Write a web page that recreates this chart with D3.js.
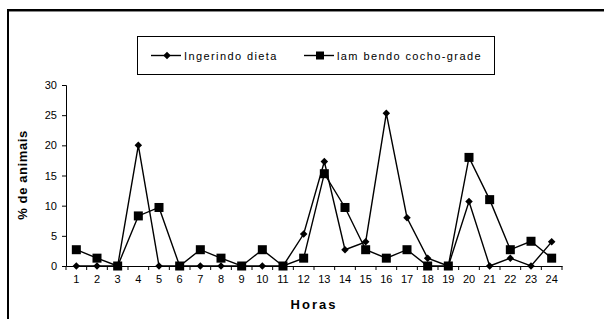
<!DOCTYPE html>
<html>
<head>
<meta charset="utf-8">
<script src="https://d3js.org/d3.v7.min.js"></script>
<style>
  body { margin: 0; background: #fff; }
  svg { font-family: "Liberation Sans", Arial, sans-serif; }
</style>
</head>
<body>
<script>
// chart data
var horas = ["1","2","3","4","5","6","7","8","9","10","11","12","13","14","15","16","17","18","19","20","21","22","23","24"];
var ingerindo = [0, 0, 0, 20, 0, 0, 0, 0, 0, 0, 0, 5.3, 17.3, 2.7, 4, 25.3, 8, 1.3, 0, 10.7, 0, 1.3, 0, 4];
var lambendo = [2.7, 1.3, 0, 8.3, 9.7, 0, 2.7, 1.3, 0, 2.7, 0, 1.3, 15.3, 9.7, 2.7, 1.3, 2.7, 0, 0, 18, 11, 2.7, 4.1, 1.3];
var yTicks = [0, 5, 10, 15, 20, 25, 30];
var seriesNames = ["Ingerindo dieta", "lam bendo cocho-grade"];

var width = 604,
    height = 319;

var svg = d3.select("body")
    .append("svg")
    .attr("width", width)
    .attr("height", height);

// outer frame (only top and left edges visible)
svg.append("path")
    .attr("d", "M8,330 L8,10 L620,10")
    .attr("fill", "none")
    .attr("stroke", "#000")
    .attr("stroke-width", 2);
svg.append("line")
    .attr("x1", 9).attr("x2", 620).attr("y1", 11.5).attr("y2", 11.5)
    .attr("stroke", "#888").attr("stroke-width", 1);

var x = d3.scaleBand().domain(horas).range([66, 562]);
var y = d3.scaleLinear().domain([0, 30]).range([266, 85]);

// y axis
svg.append("g")
    .attr("transform", "translate(66,0)")
    .call(d3.axisLeft(y).tickValues(yTicks).tickSize(4).tickPadding(5));
// x axis: ticks at the band boundaries
var xAxis = svg.append("g")
    .attr("transform", "translate(0,266)")
    .call(d3.axisBottom(x).tickSize(0).tickPadding(9));
xAxis.selectAll(".bound")
    .data(d3.range(horas.length + 1))
    .enter().append("line")
    .attr("x1", function(i) { return 66 + i * x.step(); })
    .attr("x2", function(i) { return 66 + i * x.step(); })
    .attr("y1", 0).attr("y2", 4)
    .attr("stroke", "#000");

svg.selectAll(".domain").attr("stroke", "#000");
svg.selectAll(".tick text")
    .attr("font-size", 11)
    .attr("font-family", "Liberation Sans, Arial, sans-serif")
    .attr("fill", "#000");

function cx(d, i) { return x(horas[i]) + x.bandwidth() / 2; }

var line = d3.line()
    .x(function(d, i) { return cx(d, i); })
    .y(function(d) { return y(d); });

// lambendo: squares
svg.append("path")
    .datum(lambendo)
    .attr("d", line)
    .attr("fill", "none")
    .attr("stroke", "#000")
    .attr("stroke-width", 1.4);
svg.selectAll(".sq")
    .data(lambendo)
    .enter().append("rect")
    .attr("x", function(d, i) { return cx(d, i) - 4.5; })
    .attr("y", function(d) { return y(d) - 4.5; })
    .attr("width", 9).attr("height", 9)
    .attr("fill", "#000");

// ingerindo: diamonds
svg.append("path")
    .datum(ingerindo)
    .attr("d", line)
    .attr("fill", "none")
    .attr("stroke", "#000")
    .attr("stroke-width", 1.4);
var diamond = d3.symbol().type(d3.symbolDiamond2).size(36);
svg.selectAll(".dm")
    .data(ingerindo)
    .enter().append("path")
    .attr("d", diamond)
    .attr("transform", function(d, i) { return "translate(" + cx(d, i) + "," + y(d) + ")"; })
    .attr("fill", "#000");

// axis titles
svg.append("text")
    .attr("transform", "translate(27,175) rotate(-90)")
    .attr("text-anchor", "middle")
    .attr("font-size", 13)
    .attr("font-weight", "bold")
    .attr("letter-spacing", 0.6)
    .text("% de animais");
svg.append("text")
    .attr("x", 314).attr("y", 309)
    .attr("text-anchor", "middle")
    .attr("font-size", 13)
    .attr("font-weight", "bold")
    .attr("letter-spacing", 2)
    .text("Horas");

// legend
var legend = svg.append("g");
legend.append("rect")
    .attr("x", 137.5).attr("y", 36.5)
    .attr("width", 357).attr("height", 38)
    .attr("fill", "#fff")
    .attr("stroke", "#000");
var items = [
    { name: seriesNames[0], x: 151, shape: "d" },
    { name: seriesNames[1], x: 304, shape: "s" }
];
items.forEach(function(it) {
    legend.append("line")
        .attr("x1", it.x).attr("x2", it.x + 30)
        .attr("y1", 55.5).attr("y2", 55.5)
        .attr("stroke", "#000").attr("stroke-width", 1.4);
    if (it.shape === "d") {
        legend.append("path")
            .attr("d", diamond)
            .attr("transform", "translate(" + (it.x + 16) + ",55.5)");
    } else {
        legend.append("rect")
            .attr("x", it.x + 12).attr("y", 51.5)
            .attr("width", 8).attr("height", 8);
    }
    legend.append("text")
        .attr("x", it.x + 33).attr("y", 59.5)
        .attr("font-size", 11)
        .attr("letter-spacing", 1.4)
        .text(it.name);
});
</script>
</body>
</html>
